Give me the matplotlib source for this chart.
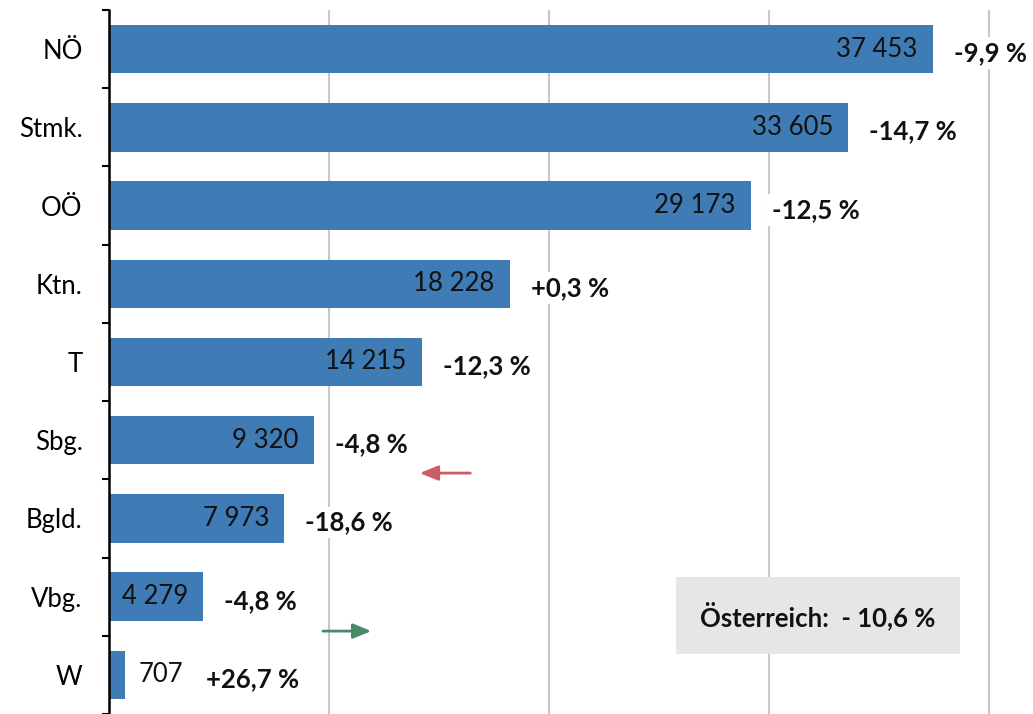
import matplotlib
matplotlib.use("Agg")
import matplotlib.pyplot as plt

plt.rcParams['font.family'] = ['Lato', 'DejaVu Sans']

regions = ["NÖ", "Stmk.", "OÖ", "Ktn.", "T", "Sbg.", "Bgld.", "Vbg.", "W"]
values = [37453, 33605, 29173, 18228, 14215, 9320, 7973, 4279, 707]
changes = ["-9,9 %", "-14,7 %", "-12,5 %", "+0,3 %", "-12,3 %", "-4,8 %", "-18,6 %", "-4,8 %", "+26,7 %"]
total_label = "Österreich:  - 10,6 %"

bar_color = "#3f7bb5"
fs = 18.5

fig = plt.figure(figsize=(10.33, 7.14), dpi=100)
ax = fig.add_axes([109 / 1033, 0, (1033 - 109) / 1033, 704 / 714])

y = list(range(len(regions)))
ax.barh(y, values, height=0.62, color=bar_color, zorder=2)
ax.set_ylim(len(regions) - 0.5, -0.5)
ax.set_xlim(0, 42000)

ax.set_xticks([10000, 20000, 30000, 40000])
ax.xaxis.grid(True, color="#c8c8c8", linewidth=1.5, zorder=0)
ax.tick_params(axis="x", length=0, labelbottom=False)
ax.set_yticks(y)
ax.set_yticklabels(regions, fontsize=fs)
ax.set_yticks([i - 0.5 for i in range(len(regions) + 1)], minor=True)
ax.tick_params(axis="y", which="major", length=0, pad=19)
ax.tick_params(axis="y", which="minor", length=5, width=1.5, direction="out")
for s in ["top", "right", "bottom"]:
    ax.spines[s].set_visible(False)
ax.spines["left"].set_linewidth(1.8)
ax.spines["left"].set_zorder(3)

for i, (v, c) in enumerate(zip(values, changes)):
    label = f"{v:,}".replace(",", " ")
    if v > 3000:
        ax.annotate(label, (v, i), xytext=(-11, 0), textcoords="offset points",
                    ha="right", va="center", fontsize=fs, color="#111111", zorder=4)
        off = 15
    else:
        ax.annotate(label, (v, i), xytext=(10, 0), textcoords="offset points",
                    ha="left", va="center", fontsize=fs, color="#111111", zorder=4)
        off = 59
    ax.annotate(c, (v, i), xytext=(off, -3), textcoords="offset points",
                ha="left", va="center", fontsize=fs, fontweight="bold", color="#111111",
                zorder=4, bbox=dict(boxstyle="square,pad=0.15", fc="white", ec="none"))

# arrows
ax.annotate("", xy=(14000, 5.42), xytext=(16550, 5.42),
            arrowprops=dict(arrowstyle="-|>,head_length=1.1,head_width=0.45",
                            color="#cf5b64", lw=2), zorder=4)
ax.annotate("", xy=(12050, 7.44), xytext=(9600, 7.44),
            arrowprops=dict(arrowstyle="-|>,head_length=1.1,head_width=0.45",
                            color="#4b8a68", lw=2), zorder=4)

ax.text(32230, 7.24, total_label, ha="center", va="center", fontsize=fs,
        fontweight="bold", color="#111111", zorder=4,
        bbox=dict(boxstyle="square,pad=0.95", fc="#e6e6e6", ec="none"))

fig.savefig("out.png", dpi=100)
